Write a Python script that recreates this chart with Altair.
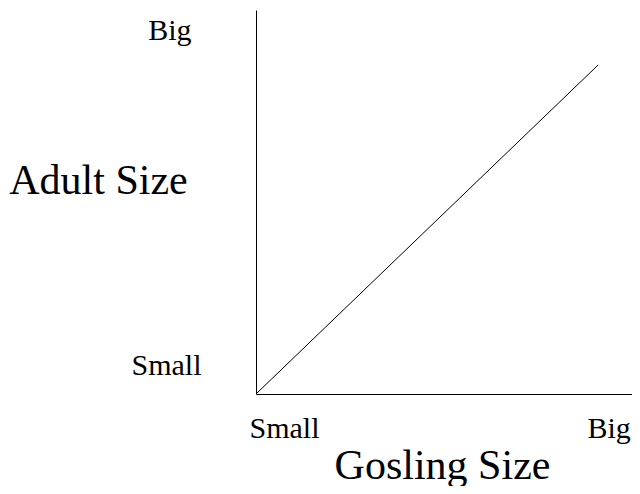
import altair as alt
import pandas as pd

# Line data (relative size units, 0..1 of the axis range)
gosling_size = [0.0, 0.91]
adult_size = [0.0, 0.857]

# Axis label positions and texts
x_label_values = [0.0745, 0.938]
x_label_texts = ["Small", "Big"]
y_label_values = [0.052, 0.922]
y_label_texts = ["Small", "Big"]

df = pd.DataFrame({"gosling": gosling_size, "adult": adult_size})

FONT = "Liberation Serif"

x_expr = f"datum.value < 0.5 ? '{x_label_texts[0]}' : '{x_label_texts[1]}'"
y_expr = f"datum.value < 0.5 ? '{y_label_texts[0]}' : '{y_label_texts[1]}'"

chart = (
    alt.Chart(df)
    .mark_line(color="black", strokeWidth=1)
    .encode(
        x=alt.X(
            "gosling:Q",
            scale=alt.Scale(domain=[0, 1], nice=False, zero=True),
            axis=alt.Axis(
                title="Gosling Size",
                values=x_label_values,
                labelExpr=x_expr,
                grid=False,
                ticks=False,
                tickSize=0,
                domainColor="black",
                domainWidth=1,
                labelFont=FONT,
                labelFontSize=30,
                labelColor="black",
                labelBaseline="alphabetic",
                labelPadding=43,
                labelFlush=False,
                labelOverlap=False,
                titleFont=FONT,
                titleFontSize=42,
                titleFontWeight="normal",
                titleColor="black",
                titleAlign="center",
                titleBaseline="alphabetic",
                titleX=186,
                titleY=84,
            ),
        ),
        y=alt.Y(
            "adult:Q",
            scale=alt.Scale(domain=[0, 1], nice=False, zero=True),
            axis=alt.Axis(
                title="Adult Size",
                values=y_label_values,
                labelExpr=y_expr,
                grid=False,
                ticks=False,
                tickSize=0,
                domainColor="black",
                domainWidth=1,
                labelFont=FONT,
                labelFontSize=30,
                labelColor="black",
                labelAlign="right",
                labelBaseline="alphabetic",
                labelPadding={"condition": {"test": "datum.value > 0.5", "value": 65}, "value": 55},
                labelFlush=False,
                labelOverlap=False,
                titleFont=FONT,
                titleFontSize=42,
                titleFontWeight="normal",
                titleColor="black",
                titleAngle=0,
                titleAlign="center",
                titleBaseline="alphabetic",
                titleX=-158,
                titleY=183,
            ),
        ),
    )
    .properties(
        width=376,
        height=384,
        autosize=alt.AutoSizeParams(type="none"),
        padding={"left": 248, "top": 2, "right": 0, "bottom": 92},
        background="white",
    )
    .configure_view(stroke=None)
)

chart.save("out.html", embed_options={"renderer": "svg", "actions": False})
